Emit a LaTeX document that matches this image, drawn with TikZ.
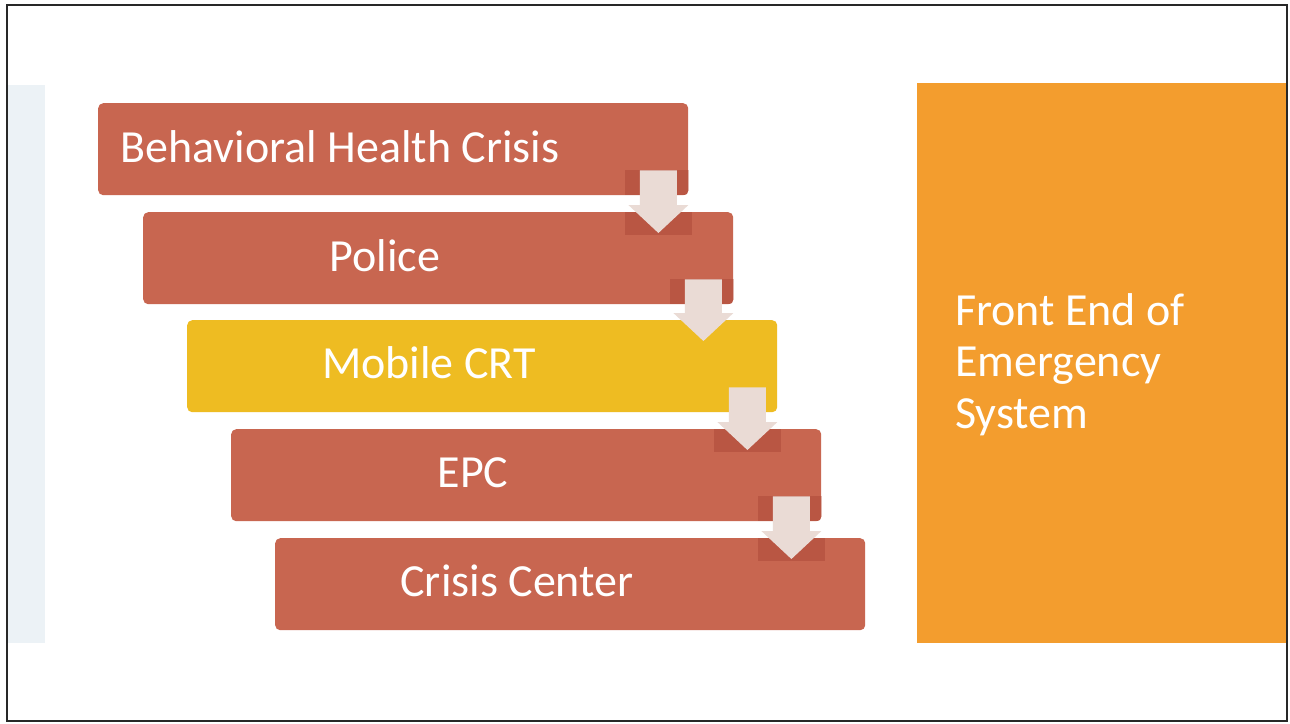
\documentclass[tikz,border=0pt]{standalone}
\usepackage{fontspec}
\setmainfont{Carlito}
\usetikzlibrary{calc}
\definecolor{boxred}{RGB}{200,102,80}
\definecolor{shadered}{RGB}{185,86,67}
\definecolor{crtyellow}{RGB}{238,188,34}
\definecolor{sideorange}{RGB}{243,157,46}
\definecolor{arrowfill}{RGB}{234,219,213}
\definecolor{stripblue}{RGB}{236,242,246}
\definecolor{framegray}{RGB}{40,40,40}
\newcommand\blockarrow[2]{%
  \fill[arrowfill] let \p1=(#1.south east), \p2=(#2.north east) in
  (\x1-48.5pt,\y1+25pt) -- (\x1-11.5pt,\y1+25pt) -- (\x1-11.5pt,\y2+7pt) --
  (\x1,\y2+7pt) -- (\x1-30pt,\y2-21pt) -- (\x1-60pt,\y2+7pt) --
  (\x1-48.5pt,\y2+7pt) -- cycle;}
\newcommand\shadeupper[1]{%
  \begin{scope}
    \clip[rounded corners=5pt] (#1.south west) rectangle (#1.north east);
    \fill[shadered] let \p1=(#1.south east) in (\x1-63pt,\y1+25pt) rectangle (\x1+4pt,\y1);
  \end{scope}}
\newcommand\shadelower[2]{%
  \begin{scope}
    \clip[rounded corners=5pt] (#2.south west) rectangle (#2.north east);
    \fill[shadered] let \p1=(#1.south east), \p2=(#2.north east) in (\x1-63pt,\y2) rectangle (\x1+4pt,\y2-23pt);
  \end{scope}}
\begin{document}
\begin{tikzpicture}[x=1pt,y=-1pt,
  stepbox/.style={rounded corners=5pt, minimum width=590pt, minimum height=92pt,
    inner sep=0pt, fill=boxred, anchor=north west},
  boxtext/.style={text=white, font=\fontsize{46}{52}\selectfont, anchor=base, inner sep=0pt},
]
\useasboundingbox (0,0) rectangle (1290,723);
\fill[white] (0,0) rectangle (1290,723);
\fill[stripblue] (8,85) rectangle (45,643);
\fill[sideorange] (917,83) rectangle (1286,643);
\draw[framegray, line width=2pt] (7,5) rectangle (1287,721);

\node[stepbox] (b1) at (98,103) {};
\node[stepbox] (b2) at (143,212) {};
\node[stepbox, fill=crtyellow] (b3) at (187,320) {};
\node[stepbox] (b4) at (231,429) {};
\node[stepbox] (b5) at (275,538) {};

\shadeupper{b1}\shadelower{b1}{b2}
\shadeupper{b2}
\shadelower{b3}{b4}
\shadeupper{b4}\shadelower{b4}{b5}

\blockarrow{b1}{b2}
\blockarrow{b2}{b3}
\blockarrow{b3}{b4}
\blockarrow{b4}{b5}

\node[boxtext] (t1) at ($(b1.west)+(242,13)$) {Behavioral Health Crisis};
\node[boxtext] (t2) at ($(b2.west)+(242,13)$) {Police};
\node[boxtext] (t3) at ($(b3.west)+(242,12)$) {Mobile CRT};
\node[boxtext] (t4) at ($(b4.west)+(242,12)$) {EPC};
\node[boxtext] (t5) at ($(b5.west)+(242,12)$) {Crisis Center};

\node[anchor=base west, text=white, font=\fontsize{46}{51.5}\selectfont,
  align=left, inner sep=0pt] (side) at (955,428) {Front End of\\Emergency\\System};
\end{tikzpicture}
\end{document}
